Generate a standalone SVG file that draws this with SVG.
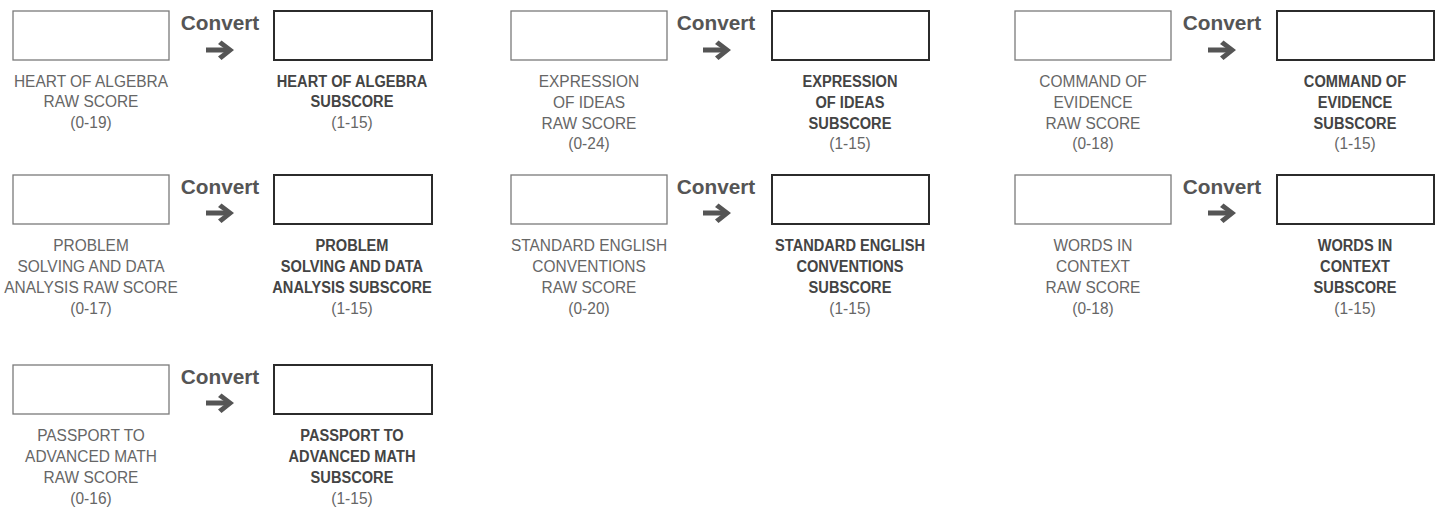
<svg xmlns="http://www.w3.org/2000/svg" xmlns:xlink="http://www.w3.org/1999/xlink" width="1440" height="510" viewBox="0 0 1440 510">
<style>
.bg{fill:#ffffff}
.lbl{font-family:"Liberation Sans",Arial,sans-serif;font-size:17px;text-anchor:middle}
.raw{fill:#666666}
.sub{fill:#444444;font-weight:bold}
.cv{font-family:"Liberation Sans",Arial,sans-serif;font-size:20.8px;font-weight:bold;fill:#555555;text-anchor:middle}
.bin{fill:#ffffff;stroke:#7a7a7a;stroke-width:1.3}
.bout{fill:#ffffff;stroke:#2b2b2b;stroke-width:2}
.arr{fill:#555555}
</style>
<defs>
<g id="arrow">
<rect x="206" y="47.5" width="22" height="5"/>
<polygon points="221.5,40.5 234,50 221.5,60 218,56.5 226.5,50 218,44"/>
</g>
</defs>
<rect class="bg" x="0" y="0" width="1440" height="510"/>

<!-- Row 1 -->
<g id="raw-heart-of-algebra">
<rect class="bin" x="13" y="11" width="156" height="49"/>
<g transform="translate(91,0) scale(0.91,1)" class="lbl raw">
<text x="0" y="87">HEART OF ALGEBRA</text>
<text x="0" y="107.5">RAW SCORE</text>
<text x="0" y="128">(0-19)</text>
</g>
</g>
<g id="sub-heart-of-algebra">
<rect class="bout" x="274" y="11" width="158" height="49"/>
<g transform="translate(352,0) scale(0.86,1)" class="lbl sub">
<text x="0" y="87">HEART OF ALGEBRA</text>
<text x="0" y="107.5">SUBSCORE</text>
</g>
<g transform="translate(352,0) scale(0.91,1)" class="lbl raw">
<text x="0" y="128">(1-15)</text>
</g>
</g>

<g id="raw-expression-of-ideas">
<rect class="bin" x="511" y="11" width="156" height="49"/>
<g transform="translate(589,0) scale(0.91,1)" class="lbl raw">
<text x="0" y="87">EXPRESSION</text>
<text x="0" y="107.8">OF IDEAS</text>
<text x="0" y="128.6">RAW SCORE</text>
<text x="0" y="149.4">(0-24)</text>
</g>
</g>
<g id="sub-expression-of-ideas">
<rect class="bout" x="772" y="11" width="157" height="49"/>
<g transform="translate(850,0) scale(0.86,1)" class="lbl sub">
<text x="0" y="87">EXPRESSION</text>
<text x="0" y="107.8">OF IDEAS</text>
<text x="0" y="128.6">SUBSCORE</text>
</g>
<g transform="translate(850,0) scale(0.91,1)" class="lbl raw">
<text x="0" y="149.4">(1-15)</text>
</g>
</g>

<g id="raw-command-of-evidence">
<rect class="bin" x="1015" y="11" width="156" height="49"/>
<g transform="translate(1093,0) scale(0.91,1)" class="lbl raw">
<text x="0" y="87">COMMAND OF</text>
<text x="0" y="107.8">EVIDENCE</text>
<text x="0" y="128.6">RAW SCORE</text>
<text x="0" y="149.4">(0-18)</text>
</g>
</g>
<g id="sub-command-of-evidence">
<rect class="bout" x="1277" y="11" width="157" height="49"/>
<g transform="translate(1355,0) scale(0.86,1)" class="lbl sub">
<text x="0" y="87">COMMAND OF</text>
<text x="0" y="107.8">EVIDENCE</text>
<text x="0" y="128.6">SUBSCORE</text>
</g>
<g transform="translate(1355,0) scale(0.91,1)" class="lbl raw">
<text x="0" y="149.4">(1-15)</text>
</g>
</g>

<!-- Row 2 -->
<g id="raw-problem-solving">
<rect class="bin" x="13" y="175" width="156" height="49"/>
<g transform="translate(91,0) scale(0.91,1)" class="lbl raw">
<text x="0" y="251.5">PROBLEM</text>
<text x="0" y="272.5">SOLVING AND DATA</text>
<text x="0" y="293.5">ANALYSIS RAW SCORE</text>
<text x="0" y="314.5">(0-17)</text>
</g>
</g>
<g id="sub-problem-solving">
<rect class="bout" x="274" y="175" width="158" height="49"/>
<g transform="translate(352,0) scale(0.86,1)" class="lbl sub">
<text x="0" y="251.5">PROBLEM</text>
<text x="0" y="272.5">SOLVING AND DATA</text>
<text x="0" y="293.5">ANALYSIS SUBSCORE</text>
</g>
<g transform="translate(352,0) scale(0.91,1)" class="lbl raw">
<text x="0" y="314.5">(1-15)</text>
</g>
</g>

<g id="raw-standard-english">
<rect class="bin" x="511" y="175" width="156" height="49"/>
<g transform="translate(589,0) scale(0.91,1)" class="lbl raw">
<text x="0" y="251.5">STANDARD ENGLISH</text>
<text x="0" y="272.5">CONVENTIONS</text>
<text x="0" y="293.5">RAW SCORE</text>
<text x="0" y="314.5">(0-20)</text>
</g>
</g>
<g id="sub-standard-english">
<rect class="bout" x="772" y="175" width="157" height="49"/>
<g transform="translate(850,0) scale(0.86,1)" class="lbl sub">
<text x="0" y="251.5">STANDARD ENGLISH</text>
<text x="0" y="272.5">CONVENTIONS</text>
<text x="0" y="293.5">SUBSCORE</text>
</g>
<g transform="translate(850,0) scale(0.91,1)" class="lbl raw">
<text x="0" y="314.5">(1-15)</text>
</g>
</g>

<g id="raw-words-in-context">
<rect class="bin" x="1015" y="175" width="156" height="49"/>
<g transform="translate(1093,0) scale(0.91,1)" class="lbl raw">
<text x="0" y="251.5">WORDS IN</text>
<text x="0" y="272.5">CONTEXT</text>
<text x="0" y="293.5">RAW SCORE</text>
<text x="0" y="314.5">(0-18)</text>
</g>
</g>
<g id="sub-words-in-context">
<rect class="bout" x="1277" y="175" width="157" height="49"/>
<g transform="translate(1355,0) scale(0.86,1)" class="lbl sub">
<text x="0" y="251.5">WORDS IN</text>
<text x="0" y="272.5">CONTEXT</text>
<text x="0" y="293.5">SUBSCORE</text>
</g>
<g transform="translate(1355,0) scale(0.91,1)" class="lbl raw">
<text x="0" y="314.5">(1-15)</text>
</g>
</g>

<!-- Row 3 -->
<g id="raw-passport">
<rect class="bin" x="13" y="365" width="156" height="49"/>
<g transform="translate(91,0) scale(0.91,1)" class="lbl raw">
<text x="0" y="441.5">PASSPORT TO</text>
<text x="0" y="462.5">ADVANCED MATH</text>
<text x="0" y="483.5">RAW SCORE</text>
<text x="0" y="504.5">(0-16)</text>
</g>
</g>
<g id="sub-passport">
<rect class="bout" x="274" y="365" width="158" height="49"/>
<g transform="translate(352,0) scale(0.86,1)" class="lbl sub">
<text x="0" y="441.5">PASSPORT TO</text>
<text x="0" y="462.5">ADVANCED MATH</text>
<text x="0" y="483.5">SUBSCORE</text>
</g>
<g transform="translate(352,0) scale(0.91,1)" class="lbl raw">
<text x="0" y="504.5">(1-15)</text>
</g>
</g>

<!-- Connectors -->
<g id="connectors">
<g class="arr">
<use xlink:href="#arrow" href="#arrow"/>
<use xlink:href="#arrow" href="#arrow" transform="translate(497,0)"/>
<use xlink:href="#arrow" href="#arrow" transform="translate(1002,0)"/>
<use xlink:href="#arrow" href="#arrow" transform="translate(0,163)"/>
<use xlink:href="#arrow" href="#arrow" transform="translate(497,163)"/>
<use xlink:href="#arrow" href="#arrow" transform="translate(1002,163)"/>
<use xlink:href="#arrow" href="#arrow" transform="translate(0,353)"/>
</g>
<text class="cv" x="220" y="30">Convert</text>
<text class="cv" x="716" y="30">Convert</text>
<text class="cv" x="1222" y="30">Convert</text>
<text class="cv" x="220" y="193.5">Convert</text>
<text class="cv" x="716" y="193.5">Convert</text>
<text class="cv" x="1222" y="193.5">Convert</text>
<text class="cv" x="220" y="383.5">Convert</text>
</g>
</svg>
